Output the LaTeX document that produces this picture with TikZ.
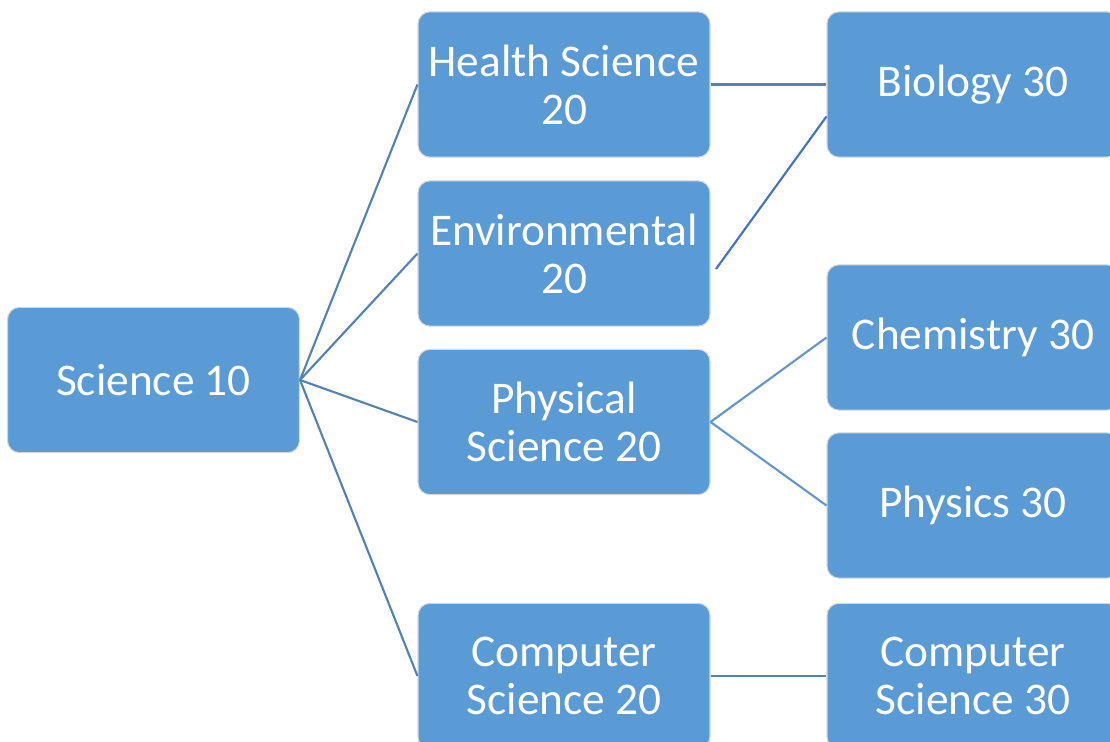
\documentclass[tikz,border=0pt]{standalone}
\usepackage{fontspec}
\setmainfont{Carlito}
\definecolor{boxblue}{RGB}{91,155,213}
\definecolor{boxedge}{RGB}{215,215,215}
\definecolor{linkblue}{RGB}{84,130,180}
\definecolor{lightlink}{RGB}{100,150,205}
\definecolor{oddlink}{RGB}{68,114,196}
\begin{document}
\begin{tikzpicture}[
      x=0.75pt,y=-0.75pt,
      course/.style={rectangle,rounded corners=9pt,fill=boxblue,draw=boxedge,line width=0.8pt,
        text=white,align=center,inner sep=0pt,minimum width=219pt,minimum height=109pt,
        font=\fontsize{34}{36}\selectfont},
      link/.style={line width=1.6pt,linkblue},
      sublink/.style={line width=1.6pt,lightlink},
      oddone/.style={line width=1.6pt,oddlink}
    ]
    \useasboundingbox (0,0) rectangle (1110,742);
    \clip (0,0) rectangle (1110,742);
    % Draw the courses.
    \node[course] (sci10)    at (153.5,380) {Science 10};
    \node[course] (health20) at (564,84.5)  {Health Science\\20};
    \node[course] (env20)    at (564,253.5) {Environmental\\20};
    \node[course] (phys20)   at (564,422)   {Physical\\Science 20};
    \node[course] (comp20)   at (564,676)   {Computer\\Science 20};
    \node[course] (bio30)    at (973,84.5)  {Biology 30};
    \node[course] (chem30)   at (973,337.5) {Chemistry 30};
    \node[course] (phys30)   at (973,505.5) {Physics 30};
    \node[course] (comp30)   at (973,676)   {Computer\\Science 30};
    % Draw the links.
    \draw[link] (sci10.east) -- (health20.west);
    \draw[link] (sci10.east) -- (env20.west);
    \draw[link] (sci10.east) -- (phys20.west);
    \draw[link] (sci10.east) -- (comp20.west);
    \draw[link] (health20.east) -- (bio30.west);
    \draw[link] (comp20.east) -- (comp30.west);
    \draw[sublink] (phys20.east) -- (chem30.west);
    \draw[sublink] (phys20.east) -- (phys30.west);
    \coordinate (envtip) at (716,269);
    \draw[oddone] (envtip) -- ([yshift=-24pt]bio30.west);
\end{tikzpicture}
\end{document}
